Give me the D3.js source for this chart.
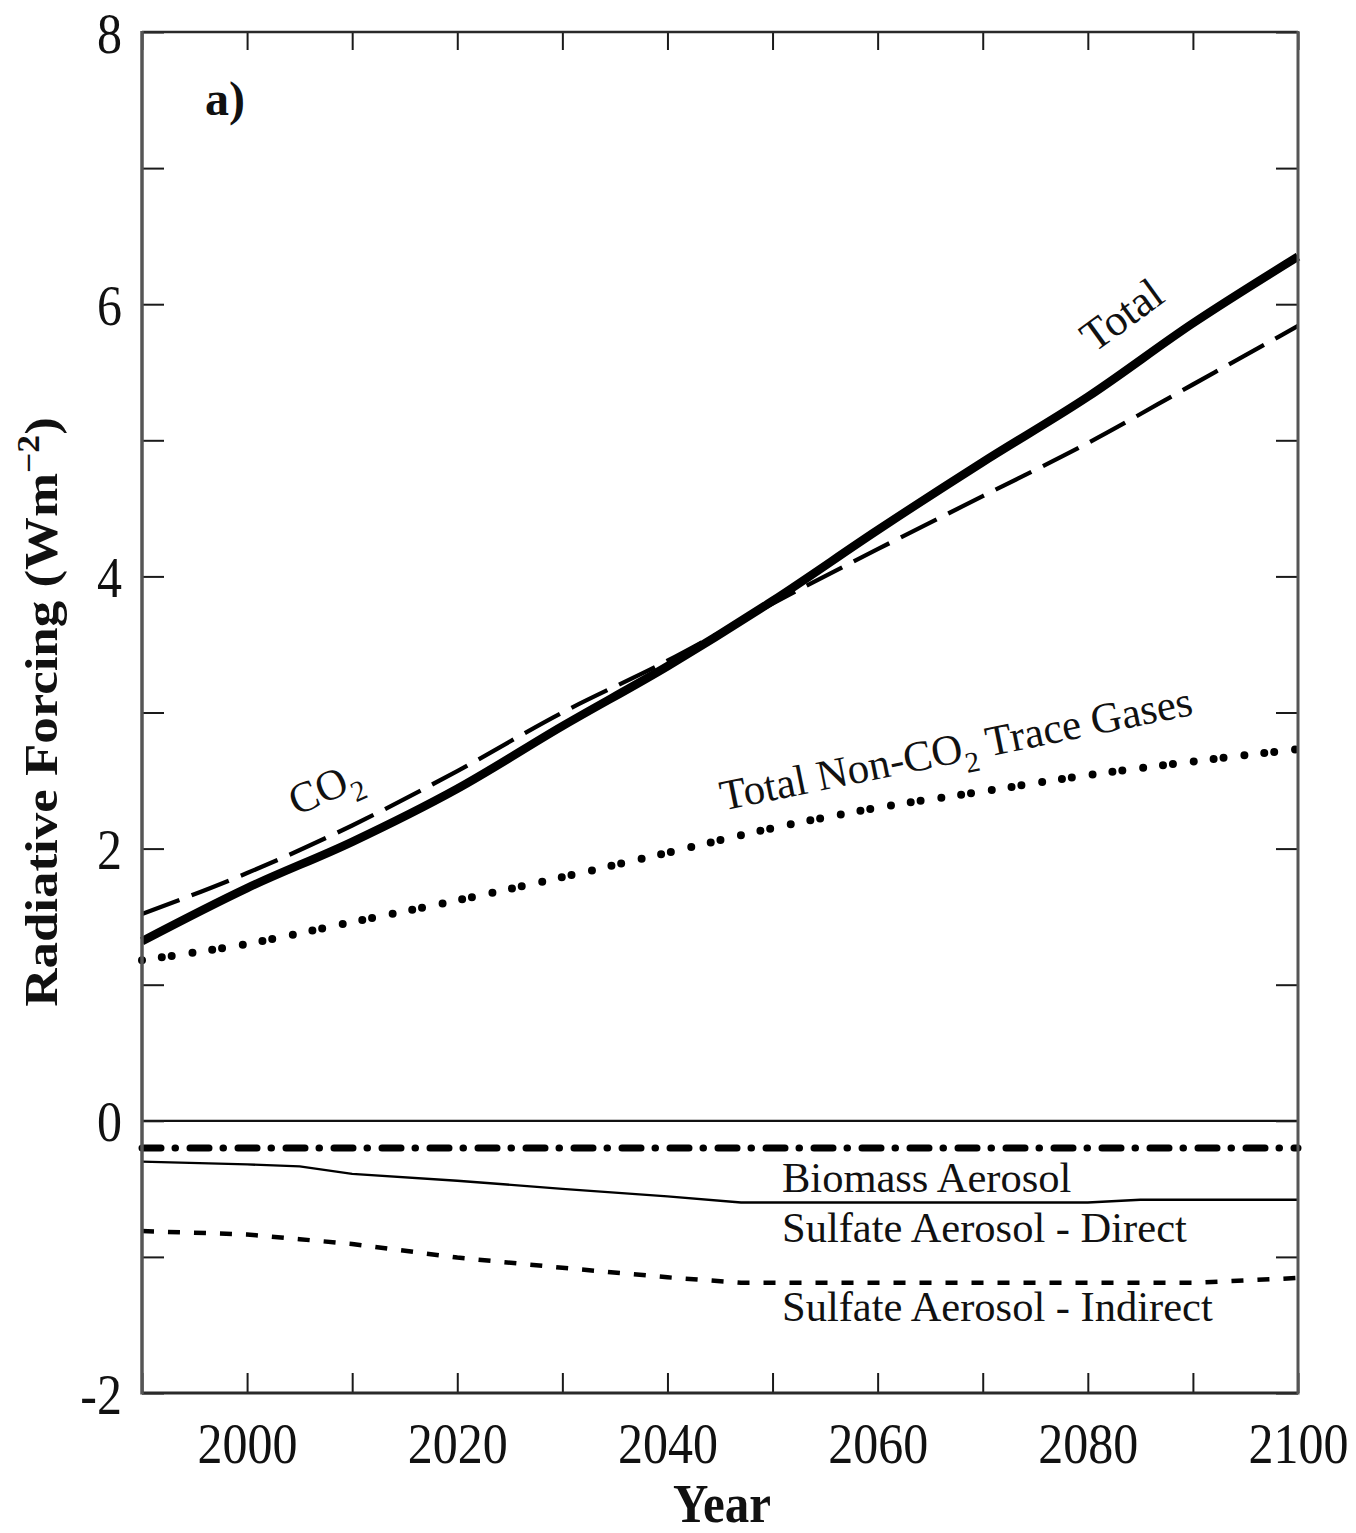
<!DOCTYPE html>
<html>
<head>
<meta charset="utf-8">
<script src="https://cdn.jsdelivr.net/npm/d3@7"></script>
<style>
  html, body { margin: 0; padding: 0; background: #fff; }
  svg { display: block; }
  text { font-family: "Liberation Serif", "Times New Roman", serif; fill: #111; }
</style>
</head>
<body>
<svg id="chart" width="1356" height="1533"></svg>
<script>
// Radiative forcing scenario, 1990–2100 (W m^-2)
const years = [1990, 2000, 2010, 2020, 2030, 2040, 2050, 2060, 2070, 2080, 2090, 2100];
const totalForcing = [1.32, 1.71, 2.05, 2.44, 2.90, 3.34, 3.82, 4.34, 4.84, 5.32, 5.86, 6.35];
const co2Forcing   = [1.52, 1.82, 2.17, 2.57, 3.00, 3.38, 3.80, 4.20, 4.59, 4.98, 5.41, 5.84];
const nonCo2Forcing = [1.18, 1.30, 1.46, 1.62, 1.79, 1.97, 2.15, 2.30, 2.42, 2.54, 2.64, 2.73];

const aerosolYears = [1990, 2000, 2005, 2010, 2020, 2030, 2040, 2047, 2060, 2070, 2080, 2085, 2090, 2100];
const biomassAerosol = [-0.20, -0.20, -0.20, -0.20, -0.20, -0.20, -0.20, -0.20, -0.20, -0.20, -0.20, -0.20, -0.20, -0.20];
const sulfateDirect = [-0.30, -0.32, -0.335, -0.39, -0.44, -0.50, -0.555, -0.60, -0.60, -0.60, -0.60, -0.58, -0.58, -0.58];
const sulfateIndirect = [-0.81, -0.835, -0.87, -0.905, -1.005, -1.08, -1.15, -1.19, -1.19, -1.19, -1.19, -1.19, -1.19, -1.155];

const xTickValues = [1990, 2000, 2010, 2020, 2030, 2040, 2050, 2060, 2070, 2080, 2090, 2100];
const yTickValues = [-2, -1, 0, 1, 2, 3, 4, 5, 6, 7, 8];

const svg = d3.select("#chart");
const plotLeft = 142, plotRight = 1298, plotTop = 32, plotBottom = 1393;
const x = d3.scaleLinear().domain([1990, 2100]).range([plotLeft, plotRight]);
const y = d3.scaleLinear().domain([-2, 8]).range([plotBottom, plotTop]);
const stretch = 1.15;

const toPoints = (xs, vs) => xs.map((yr, i) => ({ year: yr, value: vs[i] }));
const line = d3.line().x(d => x(d.year)).y(d => y(d.value));
const smoothLine = d3.line().x(d => x(d.year)).y(d => y(d.value)).curve(d3.curveMonotoneX);

const plot = svg.append("g");

// zero reference line
plot.append("path")
  .datum(toPoints([1990, 2100], [0, 0]))
  .attr("d", line).attr("fill", "none").attr("stroke", "#111").attr("stroke-width", 2.2);

const series = [
  { pts: toPoints(aerosolYears, sulfateIndirect), gen: line, w: 4.5, dash: "12,14", cap: "butt" },
  { pts: toPoints(aerosolYears, sulfateDirect), gen: line, w: 2.4, dash: null, cap: "butt" },
  { pts: toPoints(aerosolYears, biomassAerosol), gen: line, w: 7, dash: "19,14,0.5,14.5", cap: "round" },
  { pts: toPoints(years, nonCo2Forcing), gen: smoothLine, w: 8, dash: "0,20,0,10,0,21", cap: "round" },
  { pts: toPoints(years, co2Forcing), gen: smoothLine, w: 4.3, dash: "40,13", cap: "butt" },
  { pts: toPoints(years, totalForcing), gen: smoothLine, w: 8.5, dash: null, cap: "butt" }
];
series.forEach(s => {
  plot.append("path")
    .datum(s.pts)
    .attr("d", s.gen)
    .attr("fill", "none")
    .attr("stroke", "#000")
    .attr("stroke-width", s.w)
    .attr("stroke-linecap", s.cap)
    .attr("stroke-linejoin", "round")
    .attr("stroke-dasharray", s.dash);
});

// axes with inward ticks
const fmtX = d => (d % 20 === 0 ? String(d) : "");
const fmtY = d => (d % 2 === 0 ? String(d) : "");

const xb = svg.append("g").attr("transform", `translate(0,${plotBottom})`)
  .call(d3.axisBottom(x).tickValues(xTickValues).tickSize(-20).tickFormat(fmtX));
const xt = svg.append("g").attr("transform", `translate(0,${plotTop})`)
  .call(d3.axisTop(x).tickValues(xTickValues).tickSize(-18).tickFormat(""));
const yl = svg.append("g").attr("transform", `translate(${plotLeft},0)`)
  .call(d3.axisLeft(y).tickValues(yTickValues).tickSize(-22).tickPadding(20).tickFormat(fmtY));
const yr = svg.append("g").attr("transform", `translate(${plotRight},0)`)
  .call(d3.axisRight(y).tickValues(yTickValues).tickSize(-22).tickFormat(""));

[xb, xt, yl, yr].forEach(g => {
  g.select(".domain").remove();
  g.selectAll(".tick line").attr("stroke", "#1a1a1a").attr("stroke-width", 2);
});

xb.selectAll(".tick text")
  .attr("y", null).attr("dy", null)
  .attr("transform", `translate(0,70) scale(1,${stretch})`)
  .style("font-family", '"Liberation Serif", serif')
  .style("font-size", "50px").attr("fill", "#111");

yl.selectAll(".tick text")
  .attr("x", null).attr("dy", null)
  .attr("transform", `translate(-20,20) scale(1,${stretch})`)
  .style("font-family", '"Liberation Serif", serif')
  .style("font-size", "50px").attr("fill", "#111");

// frame
const frame = svg.append("g").attr("fill", "none");
frame.append("line").attr("x1", plotLeft).attr("x2", plotRight).attr("y1", plotTop).attr("y2", plotTop)
  .attr("stroke", "#2a2a2a").attr("stroke-width", 2.5);
frame.append("line").attr("x1", plotLeft).attr("x2", plotRight).attr("y1", plotBottom).attr("y2", plotBottom)
  .attr("stroke", "#2a2a2a").attr("stroke-width", 3);
frame.append("line").attr("x1", plotLeft).attr("x2", plotLeft).attr("y1", plotTop - 1).attr("y2", plotBottom + 1.5)
  .attr("stroke", "#555").attr("stroke-width", 3.5);
frame.append("line").attr("x1", plotRight).attr("x2", plotRight).attr("y1", plotTop - 1).attr("y2", plotBottom + 1.5)
  .attr("stroke", "#555").attr("stroke-width", 3);

// axis titles
svg.append("text")
  .attr("transform", `translate(722,1522) scale(1,1.12)`)
  .attr("text-anchor", "middle")
  .style("font-size", "49px").style("font-weight", "bold")
  .text("Year");

const yTitle = svg.append("text")
  .attr("transform", `translate(57,712) rotate(-90) scale(${stretch},1)`)
  .attr("text-anchor", "middle")
  .style("font-size", "46px").style("font-weight", "bold");
yTitle.append("tspan").text("Radiative Forcing (Wm");
yTitle.append("tspan").attr("dy", -18).style("font-size", "31px").text("\u22122");
yTitle.append("tspan").attr("dy", 18).text(")");

// panel letter
svg.append("text")
  .attr("x", x(1996)).attr("y", y(7.39))
  .style("font-size", "48px").style("font-weight", "bold")
  .text("a)");

// curve annotations
const note = (yr0, v0, angle, size) =>
  svg.append("text")
    .attr("transform", `translate(${x(yr0)},${y(v0)}) rotate(${angle})`)
    .style("font-size", size + "px");

note(2080.6, 5.64, -36, 44).text("Total");

const co2Label = note(2004.7, 2.24, -24, 43);
co2Label.append("tspan").text("CO");
co2Label.append("tspan").attr("dy", 12).style("font-size", "29px").text("2");

const nonCo2Label = note(2045.3, 2.28, -11.5, 43);
nonCo2Label.append("tspan").text("Total Non-CO");
nonCo2Label.append("tspan").attr("dy", 12).style("font-size", "29px").text("2");
nonCo2Label.append("tspan").attr("dy", -12).text(" Trace Gases");

note(2050.9, -0.52, 0, 42.5).text("Biomass Aerosol");
note(2050.9, -0.89, 0, 42.5).text("Sulfate Aerosol - Direct");
note(2050.9, -1.47, 0, 42.5).text("Sulfate Aerosol - Indirect");
</script>
</body>
</html>
